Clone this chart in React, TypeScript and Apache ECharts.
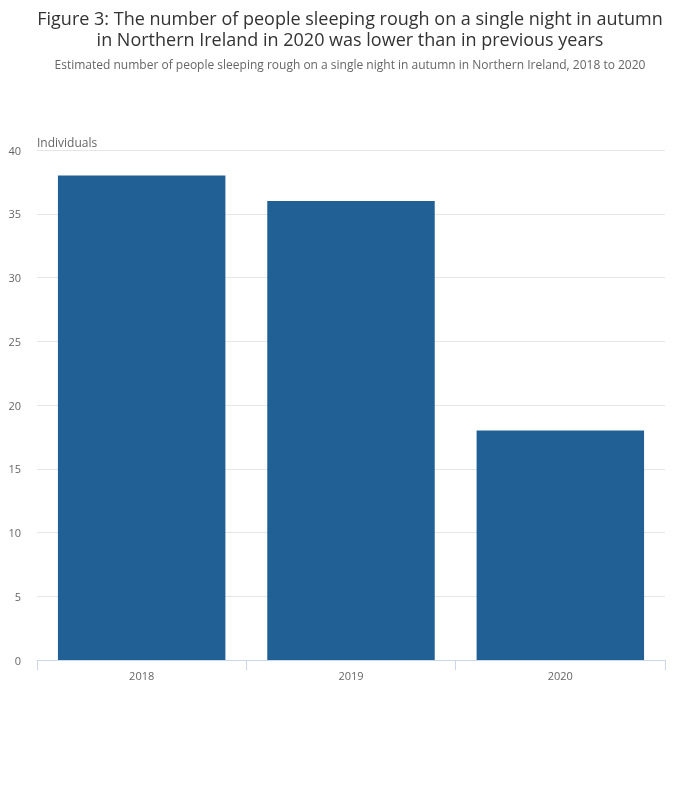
import React, { useEffect, useRef } from "react";
import * as echarts from "echarts";

const categories = ["2018", "2019", "2020"];
const values = [38, 36, 18];
const titleLines = [
  "Figure 3: The number of people sleeping rough on a single night in autumn",
  "in Northern Ireland in 2020 was lower than in previous years",
];
const subtitleText = "Estimated number of people sleeping rough on a single night in autumn in Northern Ireland, 2018 to 2020";
const yAxisName = "Individuals";

export default function App() {
  const ref = useRef<HTMLDivElement>(null);
  useEffect(() => {
    if (!ref.current) return;
    const chart = echarts.init(ref.current, null, { renderer: "svg" });
    const font = "'Open Sans', sans-serif";
    const titleStyle = { fontFamily: font, fontSize: 18, fontWeight: "normal", color: "#333333", lineHeight: 20 };
    chart.setOption({
      animation: false,
      textStyle: { fontFamily: font },
      title: [
        { text: titleLines[0], left: "center", top: 8, padding: 0, textStyle: titleStyle },
        { text: titleLines[1], left: "center", top: 29, padding: 0, textStyle: titleStyle },
        {
          text: subtitleText,
          left: "center",
          top: 57,
          padding: 0,
          textStyle: { fontFamily: font, fontSize: 12, fontWeight: "normal", color: "#666666", lineHeight: 14 },
        },
      ],
      grid: { left: 37, right: 35, top: 150, bottom: 150 },
      xAxis: {
        type: "category",
        data: categories,
        axisLine: { lineStyle: { color: "#ccd6eb" } },
        axisTick: { show: true, length: 10, lineStyle: { color: "#ccd6eb" } },
        axisLabel: { color: "#666666", fontSize: 11, margin: 10, fontFamily: font },
      },
      yAxis: {
        type: "value",
        min: 0,
        max: 40,
        interval: 5,
        name: yAxisName,
        nameLocation: "end",
        nameGap: 2,
        nameTextStyle: { align: "left", color: "#666666", fontSize: 12, fontFamily: font },
        axisLine: { show: false },
        axisTick: { show: false },
        splitLine: { lineStyle: { color: "#e6e6e6" } },
        axisLabel: { color: "#666666", fontSize: 11, margin: 16, fontFamily: font },
      },
      series: [
        {
          type: "bar",
          data: values,
          barWidth: "80%",
          itemStyle: { color: "#206095" },
        },
      ],
    });
    return () => chart.dispose();
  }, []);
  return <div ref={ref} style={{ position: "fixed", left: 0, top: 0, width: 700, height: 810 }} />;
}
